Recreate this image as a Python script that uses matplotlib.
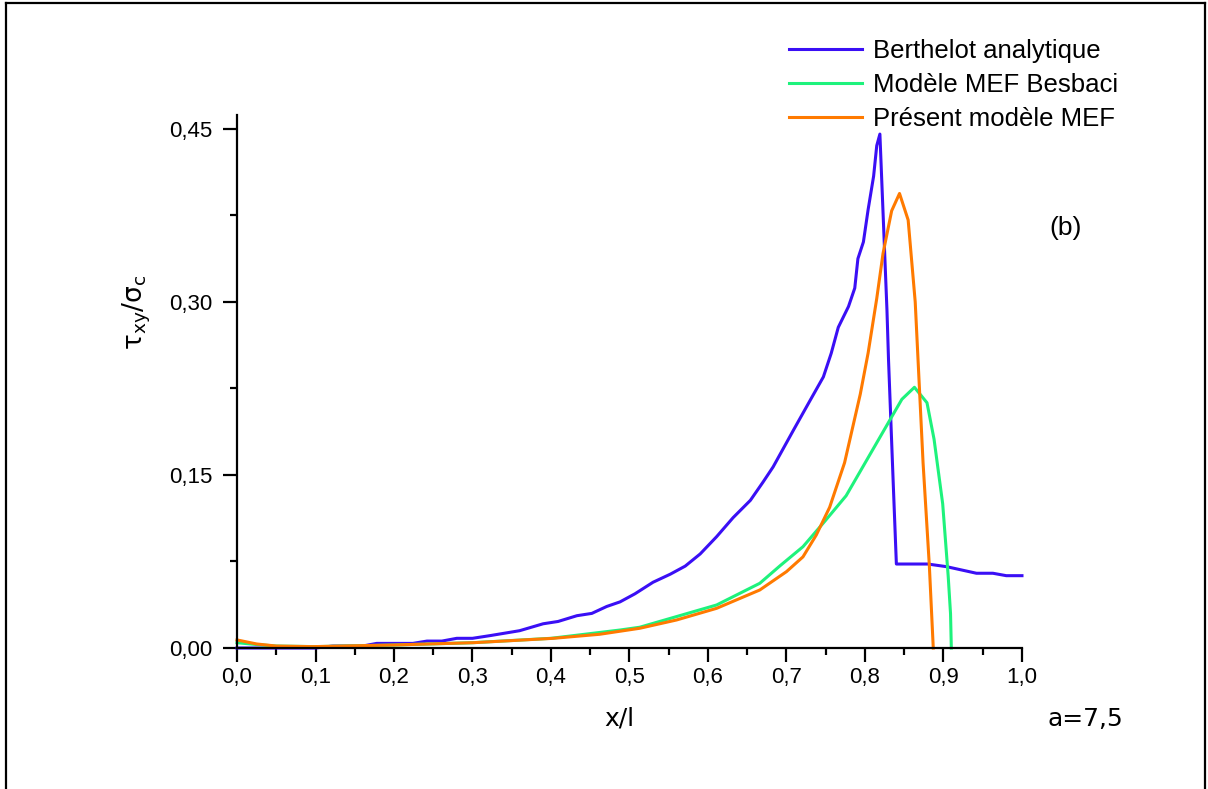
import matplotlib

matplotlib.use("Agg")

import matplotlib.pyplot as plt
from matplotlib.lines import Line2D
from matplotlib.ticker import FuncFormatter, MultipleLocator

# shear stress ratio along x/l
berthelot_x = [0.0, 0.05, 0.10, 0.122, 0.16, 0.178, 0.224, 0.242, 0.261, 0.28, 0.30, 0.322,
               0.36, 0.39, 0.409, 0.433, 0.452, 0.471, 0.488, 0.507, 0.530, 0.552, 0.571,
               0.590, 0.611, 0.632, 0.654, 0.670, 0.683, 0.709, 0.730, 0.747, 0.757, 0.766,
               0.779, 0.787, 0.791, 0.798, 0.804, 0.811, 0.815, 0.819, 0.828, 0.830, 0.836,
               0.840, 0.880, 0.904, 0.942, 0.963, 0.980, 1.0]
berthelot_y = [0.0, 0.0, 0.0, 0.0017, 0.0017, 0.004, 0.004, 0.006, 0.006, 0.0084, 0.0084, 0.0107,
               0.015, 0.021, 0.023, 0.028, 0.030, 0.036, 0.040, 0.047, 0.057, 0.064, 0.071,
               0.0815, 0.0965, 0.113, 0.128, 0.1437, 0.157, 0.189, 0.2145, 0.235, 0.2555, 0.278,
               0.296, 0.312, 0.3375, 0.352, 0.380, 0.409, 0.4355, 0.4455, 0.293, 0.2497, 0.1427,
               0.0728, 0.0728, 0.0705, 0.0648, 0.0648, 0.0627, 0.0627]

besbaci_x = [0.0, 0.025, 0.05, 0.10, 0.2, 0.3, 0.4, 0.488, 0.513, 0.611, 0.666, 0.692, 0.721,
             0.749, 0.776, 0.847, 0.863, 0.879, 0.888, 0.899, 0.906, 0.909, 0.910]
besbaci_y = [0.0046, 0.003, 0.0017, 0.0012, 0.0026, 0.0046, 0.0084, 0.0156, 0.018, 0.0373,
             0.0561, 0.0714, 0.0878, 0.110, 0.132, 0.2156, 0.226, 0.2126, 0.181, 0.125,
             0.0624, 0.0297, 0.0]

present_x = [0.0, 0.025, 0.05, 0.097, 0.199, 0.301, 0.403, 0.462, 0.513, 0.560, 0.611, 0.666,
             0.700, 0.721, 0.738, 0.755, 0.774, 0.794, 0.804, 0.815, 0.823, 0.834, 0.844,
             0.855, 0.864, 0.874, 0.882, 0.887]
present_y = [0.007, 0.0035, 0.0017, 0.0012, 0.0026, 0.0046, 0.0084, 0.0119, 0.0171, 0.0243,
             0.0344, 0.0503, 0.0662, 0.079, 0.098, 0.122, 0.1606, 0.22, 0.2557, 0.303, 0.342,
             0.379, 0.394, 0.371, 0.300, 0.1606, 0.0714, 0.0]

labels = ["Berthelot analytique", "Modèle MEF Besbaci", "Présent modèle MEF"]
colors = ["#3a0ff5", "#1ef27c", "#ff7a00"]

plt.rcParams["font.family"] = ["Liberation Sans", "DejaVu Sans"]

fig = plt.figure(figsize=(12.08, 7.89), dpi=100)
ax = fig.add_axes([0.1962, 0.1787, 0.846 - 0.1962, 0.8542 - 0.1787])

series = [(berthelot_x, berthelot_y), (besbaci_x, besbaci_y), (present_x, present_y)]
for (xs, ys), label, color in zip(series, labels, colors):
    ax.plot(xs, ys, color=color, linewidth=2.2, label=label, clip_on=False)

ax.set_xlim(0, 1.0)
ax.set_ylim(0, 0.462)
for side in ("top", "right"):
    ax.spines[side].set_visible(False)
for side in ("left", "bottom"):
    ax.spines[side].set_linewidth(1.6)

ax.xaxis.set_major_locator(MultipleLocator(0.1))
ax.xaxis.set_minor_locator(MultipleLocator(0.05))
ax.yaxis.set_major_locator(MultipleLocator(0.15))
ax.yaxis.set_minor_locator(MultipleLocator(0.075))
ax.xaxis.set_major_formatter(FuncFormatter(lambda v, _: f"{v:.1f}".replace(".", ",")))
ax.yaxis.set_major_formatter(FuncFormatter(lambda v, _: f"{v:.2f}".replace(".", ",")))
ax.tick_params(which="major", direction="out", length=10, width=1.6, labelsize=16)
ax.tick_params(axis="x", which="major", pad=4)
ax.tick_params(axis="y", which="major", pad=8)
ax.tick_params(which="minor", direction="out", length=5, width=1.6)

fig.text(0.513, 1 - 719 / 789, "x/l", fontsize=18, family="DejaVu Sans", ha="center", va="center")
fig.text(137 / 1208, 1 - 312 / 789, r"$\mathregular{\tau_{xy}/\sigma_c}$", fontsize=19,
         family="DejaVu Sans", rotation=90, ha="center", va="center")
fig.text(1085 / 1208, 1 - 719 / 789, "a=7,5", fontsize=18, family="DejaVu Sans",
         ha="center", va="center")
fig.text(1066 / 1208, 1 - 228 / 789, "(b)", fontsize=19, ha="center", va="center")

ax.legend(loc="upper left", bbox_to_anchor=(789 / 1208, 0.950), bbox_transform=fig.transFigure,
          frameon=False, fontsize=18.5, handlelength=2.85, handletextpad=0.4,
          labelspacing=0.38, borderpad=0, borderaxespad=0)

# page frame: left, top and right edges
frame_kw = dict(transform=fig.transFigure, color="black", linewidth=1.6)
fig.lines.append(Line2D([6 / 1208, 6 / 1208], [0, 1 - 3 / 789], **frame_kw))
fig.lines.append(Line2D([6 / 1208, 1205 / 1208], [1 - 3 / 789, 1 - 3 / 789], **frame_kw))
fig.lines.append(Line2D([1205 / 1208, 1205 / 1208], [0, 1 - 3 / 789], **frame_kw))

fig.savefig("out.png", dpi=100)
plt.close(fig)
